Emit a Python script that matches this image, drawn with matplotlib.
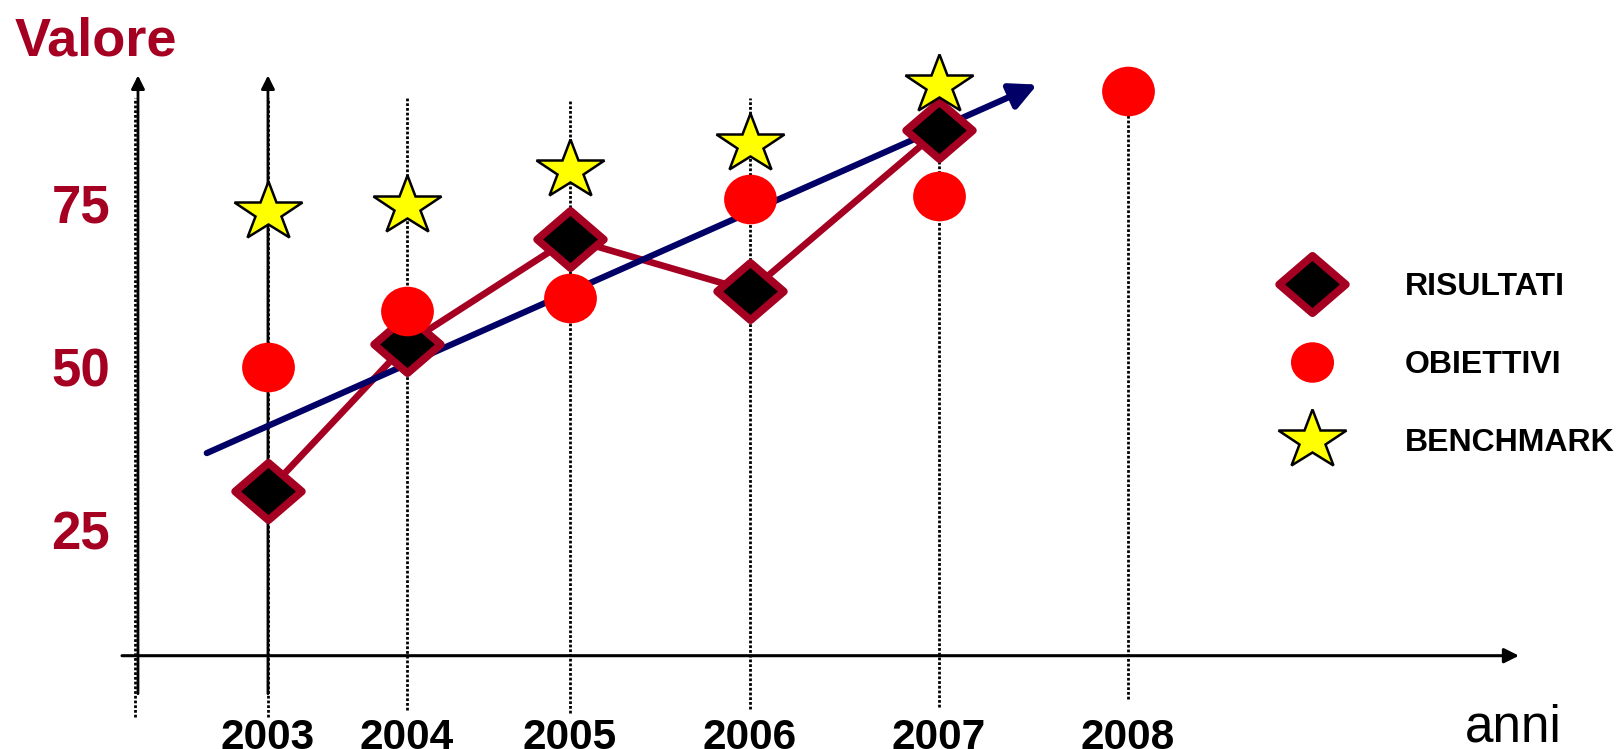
import numpy as np
import matplotlib
matplotlib.use("Agg")
import matplotlib.pyplot as plt
from matplotlib.markers import MarkerStyle
from matplotlib.transforms import Affine2D
from matplotlib.lines import Line2D
from matplotlib.path import Path

plt.rcParams['font.family'] = ['Liberation Sans', 'DejaVu Sans']

# ---- data -------------------------------------------------------------
years = [2003, 2004, 2005, 2006, 2007, 2008]
risultati = [31.0, 53.5, 69.5, 61.5, 86.0]          # 2003-2007
obiettivi = [50.0, 58.5, 60.5, 75.5, 76.0, 92.0]    # 2003-2008
benchmark = [73.5, 74.5, 80.0, 84.0, 93.0]          # 2003-2007
trend_years = [2002.56, 2007.52]
trend_values = [36.8, 93.0]
y_ticks = [25, 50, 75]
series_labels = ['RISULTATI', 'OBIETTIVI', 'BENCHMARK']

DARK_RED = '#A50021'
NAVY = '#000066'

# ---- uneven spacing of the year columns -------------------------------
year_spacing = [0, 139, 302, 482, 671, 860]
_ls = (year_spacing[1] - year_spacing[0]) / (years[1] - years[0])
_rs = (year_spacing[-1] - year_spacing[-2]) / (years[-1] - years[-2])


def _fwd(x):
    x = np.asarray(x, dtype=float)
    out = np.interp(x, years, year_spacing)
    out = np.where(x < years[0], year_spacing[0] + (x - years[0]) * _ls, out)
    out = np.where(x > years[-1], year_spacing[-1] + (x - years[-1]) * _rs, out)
    return out


def _inv(u):
    u = np.asarray(u, dtype=float)
    out = np.interp(u, year_spacing, years)
    out = np.where(u < year_spacing[0], years[0] + (u - year_spacing[0]) / _ls, out)
    out = np.where(u > year_spacing[-1], years[-1] + (u - year_spacing[-1]) / _rs, out)
    return out


# ---- marker shapes ----------------------------------------------------
diamond = MarkerStyle(Path([(-1, 0), (0, 0.86), (1, 0), (0, -0.86), (-1, 0)], closed=True),
                      joinstyle='miter')
ellipse = MarkerStyle('o', transform=Affine2D().scale(1, 0.94))
star = MarkerStyle('*', transform=Affine2D().scale(1.15, 1), joinstyle='miter')

diamond_kw = dict(marker=diamond, ms=48, mfc='black', mec=DARK_RED, mew=5.6)
circle_kw = dict(marker=ellipse, ms=38, mfc='#FF0000', mec='#FF0000', mew=0)
star_kw = dict(marker=star, ms=45, mfc='#FFFF00', mec='black', mew=1.8)

ARROW = '-|>,head_length=0.4,head_width=0.2'

# ---- figure -----------------------------------------------------------
fig = plt.figure(figsize=(16.19, 7.49), dpi=100)
ax = fig.add_axes([122 / 1619, (749 - 655.7) / 749, 1397 / 1619, 655.7 / 749])
ax.set_xscale('function', functions=(_fwd, _inv))
x_left, x_right = 2001.95, 2010.069
ax.set_xlim(x_left, x_right)
ax.set_ylim(5.9, 105.9)
for s in ax.spines.values():
    s.set_visible(False)

# axis arrows
ax.annotate('', xy=(x_right, 5.9), xytext=(x_left, 5.9), annotation_clip=False,
            arrowprops=dict(arrowstyle=ARROW, lw=2.2, color='black',
                            mutation_scale=22, shrinkA=0, shrinkB=0))
for xv in (2002.065, 2003.0):
    ax.annotate('', xy=(xv, 94.4), xytext=(xv, 0.1), annotation_clip=False, zorder=2,
                arrowprops=dict(arrowstyle=ARROW, lw=2, color='black',
                                mutation_scale=20, shrinkA=0, shrinkB=0))

# dotted year guides
guide_top = [91, 91, 90.5, 91, 91, 92]
guide_bottom = [-3.4, -2.4, -2.8, -2.2, -1.9, -0.7]
ax.vlines(years, guide_bottom, guide_top, colors='black', lw=2,
          linestyles=(0, (1, 0.7)), clip_on=False, zorder=1)
ax.vlines([2002.045], [-3.4], [91], colors='black', lw=2,
          linestyles=(0, (1, 0.7)), clip_on=False, zorder=1)

# series
ax.plot(years[:5], risultati, color=DARK_RED, lw=4.8, zorder=3, clip_on=False)
ax.annotate('', xy=(trend_years[1], trend_values[1]),
            xytext=(trend_years[0], trend_values[0]), annotation_clip=False, zorder=4,
            arrowprops=dict(arrowstyle=ARROW, lw=4.5, color=NAVY,
                            mutation_scale=40, shrinkA=0, shrinkB=0))
ax.plot(years[:5], risultati, ls='none', zorder=5, clip_on=False, **diamond_kw)
ax.plot(years, obiettivi, ls='none', zorder=6, clip_on=False, **circle_kw)
ax.plot(years[:5], benchmark, ls='none', zorder=7, clip_on=False, **star_kw)

# ticks and labels
ax.set_yticks(y_ticks, labels=[str(t) for t in y_ticks], fontweight='bold')
ax.tick_params(axis='y', length=0, pad=8.6, labelsize=38, labelcolor=DARK_RED)
ax.set_xticks(years, labels=[str(y) for y in years], fontweight='bold')
ax.tick_params(axis='x', length=0, pad=44.5, labelsize=30.5, labelcolor='black')
ax.minorticks_off()

ax.set_ylabel('Valore', rotation=0, ha='left', va='baseline', fontsize=39,
              fontweight='bold', color=DARK_RED)
ax.yaxis.set_label_coords((15 - 122) / 1397, (655.7 - 55) / 655.7)
ax.set_xlabel('anni', ha='center', va='baseline', fontsize=37, color='black')
ax.xaxis.set_label_coords((1513 - 122) / 1397, -(741 - 655.7) / 655.7)

# legend
handles = [
    Line2D([], [], ls='none', **diamond_kw),
    Line2D([], [], ls='none', **dict(circle_kw, ms=31)),
    Line2D([], [], ls='none', **star_kw),
]
ax.legend(handles, series_labels, loc='center left',
          bbox_to_anchor=(1280 / 1619, (749 - 365) / 749), bbox_transform=fig.transFigure,
          frameon=False, prop={'weight': 'bold', 'size': 23}, handlelength=2,
          handletextpad=1.9, labelspacing=1.51, borderpad=0, borderaxespad=0, numpoints=1)

fig.savefig('out.png', dpi=100)
